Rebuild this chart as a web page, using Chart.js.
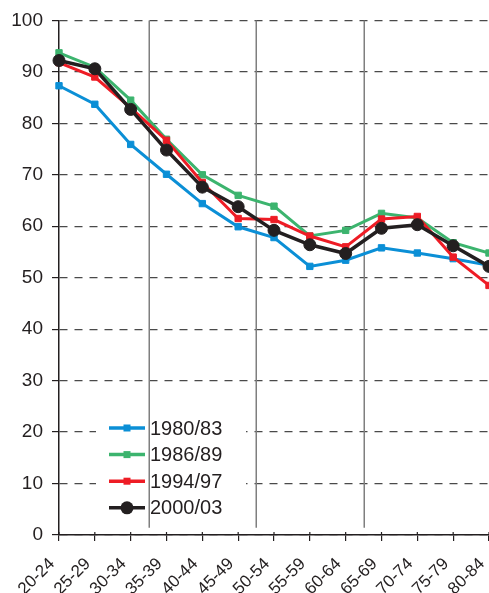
<!DOCTYPE html>
<html>
<head>
<meta charset="utf-8">
<script src="https://cdn.jsdelivr.net/npm/chart.js@4/dist/chart.umd.min.js"></script>
<style>
  html, body { margin: 0; padding: 0; background: #ffffff; }
  #wrap { width: 489px; height: 593px; position: relative; }
</style>
</head>
<body>
<div id="wrap"><canvas id="c"></canvas></div>
<script>
const categories = ['20-24','25-29','30-34','35-39','40-44','45-49','50-54','55-59','60-64','65-69','70-74','75-79','80-84'];
const series1980 = [87.3, 83.7, 75.9, 70.1, 64.4, 59.9, 57.8, 52.2, 53.4, 55.8, 54.8, 53.7, 52.4];
const series1986 = [93.7, 90.9, 84.5, 76.9, 70.0, 66.0, 63.9, 58.1, 59.2, 62.5, 61.6, 56.8, 54.8];
const series1994 = [91.8, 89.0, 83.0, 76.7, 68.5, 61.5, 61.3, 58.1, 56.0, 61.4, 61.9, 54.0, 48.5];
const series2000 = [92.2, 90.6, 82.7, 74.8, 67.6, 63.8, 59.2, 56.4, 54.7, 59.6, 60.3, 56.2, 52.2];
const seriesNames = ['1980/83', '1986/89', '1994/97', '2000/03'];
const separatorsAt = [2.5, 5.5, 8.5];

const BLUE = '#0b8fd6', GREEN = '#3cb46e', RED = '#ee1c25', BLACK = '#231f20';
const FONT = "'Liberation Sans', Arial, sans-serif";

function ds(label, data, color, style, radius, order, width) {
  return {
    label, data, borderColor: color, backgroundColor: color,
    pointBackgroundColor: color, pointBorderColor: color,
    pointStyle: style, pointRadius: radius, pointBorderWidth: 1,
    borderWidth: width, tension: 0, order, clip: false
  };
}

const datasets = [
  ds(seriesNames[0], series1980, BLUE, 'rect', 4.5, 4, 3),
  ds(seriesNames[1], series1986, GREEN, 'rect', 4.5, 3, 3),
  ds(seriesNames[2], series1994, RED, 'rect', 4.5, 2, 3),
  ds(seriesNames[3], series2000, BLACK, 'circle', 6, 1, 3.5)
];

const overlay = {
  id: 'overlay',
  beforeDatasetsDraw(chart) {
    const ctx = chart.ctx;
    const x = chart.scales.x, y = chart.scales.y;
    ctx.save();
    // legend background
    ctx.fillStyle = '#ffffff';
    ctx.fillRect(96, 410, 150, 116);
    // separators
    ctx.strokeStyle = '#7f7f7f';
    ctx.lineWidth = 1.5;
    separatorsAt.forEach(v => {
      const px = Math.round(x.getPixelForValue(v)) + 0.25;
      ctx.beginPath();
      ctx.moveTo(px, y.getPixelForValue(100));
      ctx.lineTo(px, y.getPixelForValue(1.4));
      ctx.stroke();
    });
    // legend items
    ctx.font = '20px ' + FONT;
    ctx.textBaseline = 'middle';
    ctx.textAlign = 'left';
    chart.data.datasets.forEach((d, i) => {
      const cy = 428 + i * 26.6;
      ctx.strokeStyle = d.borderColor;
      ctx.lineWidth = 3.5;
      ctx.beginPath();
      ctx.moveTo(109, cy);
      ctx.lineTo(145, cy);
      ctx.stroke();
      ctx.fillStyle = d.borderColor;
      if (d.pointStyle === 'circle') {
        ctx.beginPath();
        ctx.arc(127, cy, 6.5, 0, Math.PI * 2);
        ctx.fill();
      } else {
        ctx.fillRect(123.5, cy - 3.5, 7, 7);
      }
      ctx.fillStyle = BLACK;
      ctx.fillText(d.label, 150, cy + 1);
    });
    ctx.restore();
  },
  afterDraw(chart) {
    // x tick marks crossing the axis
    const ctx = chart.ctx;
    const x = chart.scales.x;
    const bottom = chart.chartArea.bottom;
    ctx.save();
    ctx.strokeStyle = BLACK;
    ctx.lineWidth = 1.2;
    x.ticks.forEach((t, i) => {
      const px = x.getPixelForTick(i);
      ctx.beginPath();
      ctx.moveTo(px, bottom - 3);
      ctx.lineTo(px, bottom);
      ctx.stroke();
    });
    ctx.restore();
  }
};

new Chart(document.getElementById('c'), {
  type: 'line',
  data: { labels: categories, datasets },
  plugins: [overlay],
  options: {
    responsive: true,
    maintainAspectRatio: false,
    animation: false,
    layout: { autoPadding: false, padding: { left: 0, top: 20, right: 0, bottom: 0 } },
    plugins: { legend: { display: false }, tooltip: { enabled: false } },
    scales: {
      x: {
        type: 'category',
        offset: false,
        afterFit(scale) { scale.paddingRight = 0; scale.height = 58; },
        grid: { display: true, drawOnChartArea: false, drawTicks: true, tickLength: 6, color: BLACK, tickColor: BLACK, lineWidth: 1.2 },
        border: { display: true, color: BLACK, width: 1.5 },
        ticks: {
          color: BLACK, font: { family: FONT, size: 17 },
          minRotation: 45, maxRotation: 45, autoSkip: false, padding: 13, labelOffset: -7
        }
      },
      y: {
        min: 0, max: 100,
        afterFit(scale) { scale.width = 59; },
        grid: { display: true, drawOnChartArea: true, drawTicks: true, tickLength: 7, color: '#4a4a4a', tickColor: BLACK, lineWidth: 1.2 },
        border: { display: true, color: BLACK, width: 1.5, dash: [8, 7] },
        ticks: { stepSize: 10, color: BLACK, font: { family: FONT, size: 19 }, padding: 9 }
      }
    }
  }
});
</script>
</body>
</html>
